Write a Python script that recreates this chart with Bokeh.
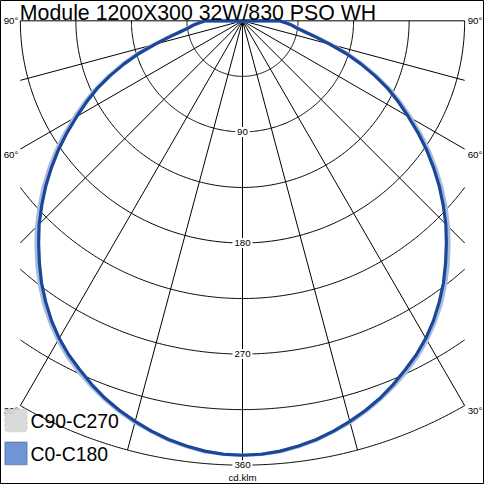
import numpy as np
from bokeh.plotting import figure
from bokeh.models import Range1d, BoxAnnotation
from bokeh.core.properties import value
from bokeh.embed import file_html
from bokeh.resources import INLINE

# ---------------- data ----------------
title_text = "Module 1200X300 32W/830 PSO WH"
unit_label = "cd.klm"
series_names = ["C90-C270", "C0-C180"]
gamma_deg = [0, 2.5, 5, 7.5, 10, 12.5, 15, 17.5, 20, 22.5, 25, 27.5, 30, 32.5, 35, 37.5,
             40, 42.5, 45, 47.5, 50, 52.5, 55, 57.5, 60, 62.5, 65, 67.5, 70, 72.5, 75,
             77.5, 80, 82.5, 85, 87.5, 90, 95]
c0_c180 = [352, 351.5, 350, 347.5, 344.5, 340.5, 336, 331, 325.5, 319, 312, 305, 297, 288, 278, 267.5,
           256, 244.5, 233, 220.5, 208, 195, 182, 168.5, 155, 142.5, 130, 116, 102, 88, 73,
           61, 51, 44, 40, 35, 30, 0]
c90_c270 = [352, 351.5, 350.5, 348, 345, 341, 337, 332, 326.5, 320.5, 314, 307, 299, 290, 280.5, 270,
            259, 247.5, 236, 223.5, 211, 198, 185, 171.5, 158, 145, 132, 118, 104, 90, 75,
            62, 52, 45, 40, 35, 30, 0]
ring_values = [45, 90, 135, 180, 225, 270, 315, 360]
ring_labels = [90, 180, 270, 360]
ray_angles = [-90, -75, -60, -45, -30, -15, 0, 15, 30, 45, 60, 75, 90]
angle_labels = [30, 60, 90]

# ---------------- layout ----------------
W = H = 484
REF = 500.0
K = W / REF                 # screen px per reference px
PXU = 1.275                 # reference px per cd/klm
OX, OY = 250.0, 21.0        # origin in reference px
XMAX = 180.0                # half width of the grid box (cd/klm)
RMAX = 360.0

def ux(px):
    return (px - OX) / PXU

def uy(py):
    return (OY - py) / PXU

def fs(px):
    return "%.1fpx" % (px * K)

p = figure(width=W, height=H, output_backend="svg", toolbar_location=None,
           x_range=Range1d(ux(0), ux(REF)), y_range=Range1d(uy(REF), uy(0)),
           min_border=0)
p.axis.visible = False
p.grid.visible = False
p.outline_line_color = "black"
p.outline_line_width = 1
p.background_fill_color = "white"
p.border_fill_color = "white"

FONT = value("Liberation Sans")

# rings (clipped to box)
xs, ys = [], []
for r in ring_values:
    tmax = np.pi / 2 if r <= XMAX else np.arcsin(XMAX / r)
    t = np.linspace(-tmax, tmax, 300)
    xs.append(list(r * np.sin(t)))
    ys.append(list(-r * np.cos(t)))
p.multi_line(xs, ys, line_color="black", line_width=1)

# rays
a = np.radians(np.array(ray_angles, dtype=float))
L = np.array([RMAX if abs(np.sin(t)) < 1e-9 else min(RMAX, XMAX / abs(np.sin(t))) for t in a])
p.segment(x0=np.zeros_like(a), y0=np.zeros_like(a), x1=L * np.sin(a), y1=-L * np.cos(a),
          line_color="black", line_width=1)

# angle labels at ray ends, both sides
lab_x, lab_y, lab_t, lab_align, lab_xo, lab_yo = [], [], [], [], [], []
for ang in angle_labels:
    t = np.radians(ang)
    Ln = min(RMAX, XMAX / np.sin(t))
    for side in (-1, 1):
        lab_x.append(side * Ln * np.sin(t))
        lab_y.append(-Ln * np.cos(t))
        lab_t.append("%d°" % ang)
        lab_align.append("left" if side > 0 else "right")
        lab_xo.append(3 if side > 0 else -2)
        lab_yo.append(0 if ang == 90 else 5)
p.text(x=lab_x, y=lab_y, text=lab_t, text_align=lab_align, x_offset=lab_xo, y_offset=lab_yo,
       text_baseline="middle", text_font=FONT, text_font_size=fs(10), text_color="black")

# ring value labels with white background
p.text(x=[0] * len(ring_labels), y=[-v for v in ring_labels], text=[str(v) for v in ring_labels],
       text_align="center", text_baseline="middle", text_font=FONT, text_font_size=fs(10),
       text_color="black", background_fill_color="white", padding=2)
p.text(x=[0], y=[-(RMAX + 10)], text=[unit_label], text_align="center", text_baseline="middle",
       text_font=FONT, text_font_size=fs(10), text_color="black")

# curves (mirrored both sides)
g = np.array(gamma_deg, dtype=float)
ang_full = np.radians(np.concatenate([-g[::-1], g[1:]]))

def full(vals):
    v = np.array(vals, dtype=float)
    return np.concatenate([v[::-1], v[1:]])

I90 = full(c90_c270)
I0 = full(c0_c180)
p.line(I90 * np.sin(ang_full), -I90 * np.cos(ang_full), line_color="#a9bbdc", line_width=3.5,
       line_join="round")
p.line(I0 * np.sin(ang_full), -I0 * np.cos(ang_full), line_color="#1b479a", line_width=3.2,
       line_join="round")

# title
p.text(x=[ux(20)], y=[uy(0.8)], text=[title_text], text_align="left", text_baseline="top",
       text_font=FONT, text_font_size=fs(22), text_color="black")

# legend
p.add_layout(BoxAnnotation(left=ux(4.5), right=ux(27.5), top=uy(422), bottom=uy(445.5),
                           fill_color="#d6d6d6", fill_alpha=0.9, line_color="#a8a8a8",
                           line_width=1.5, line_dash="3 2", border_radius=3, level="overlay"))
p.add_layout(BoxAnnotation(left=ux(4.5), right=ux(27.5), top=uy(456), bottom=uy(479.5),
                           fill_color="#7095d6", fill_alpha=1.0, line_color="#1b3f8c",
                           line_width=1.5, level="overlay"))
p.text(x=[ux(31), ux(31)], y=[uy(434.5), uy(468.5)], text=series_names, text_align="left",
       text_baseline="middle", text_font=FONT, text_font_size=fs(20), text_color="black")

open("out.html", "w").write(file_html(p, INLINE))
